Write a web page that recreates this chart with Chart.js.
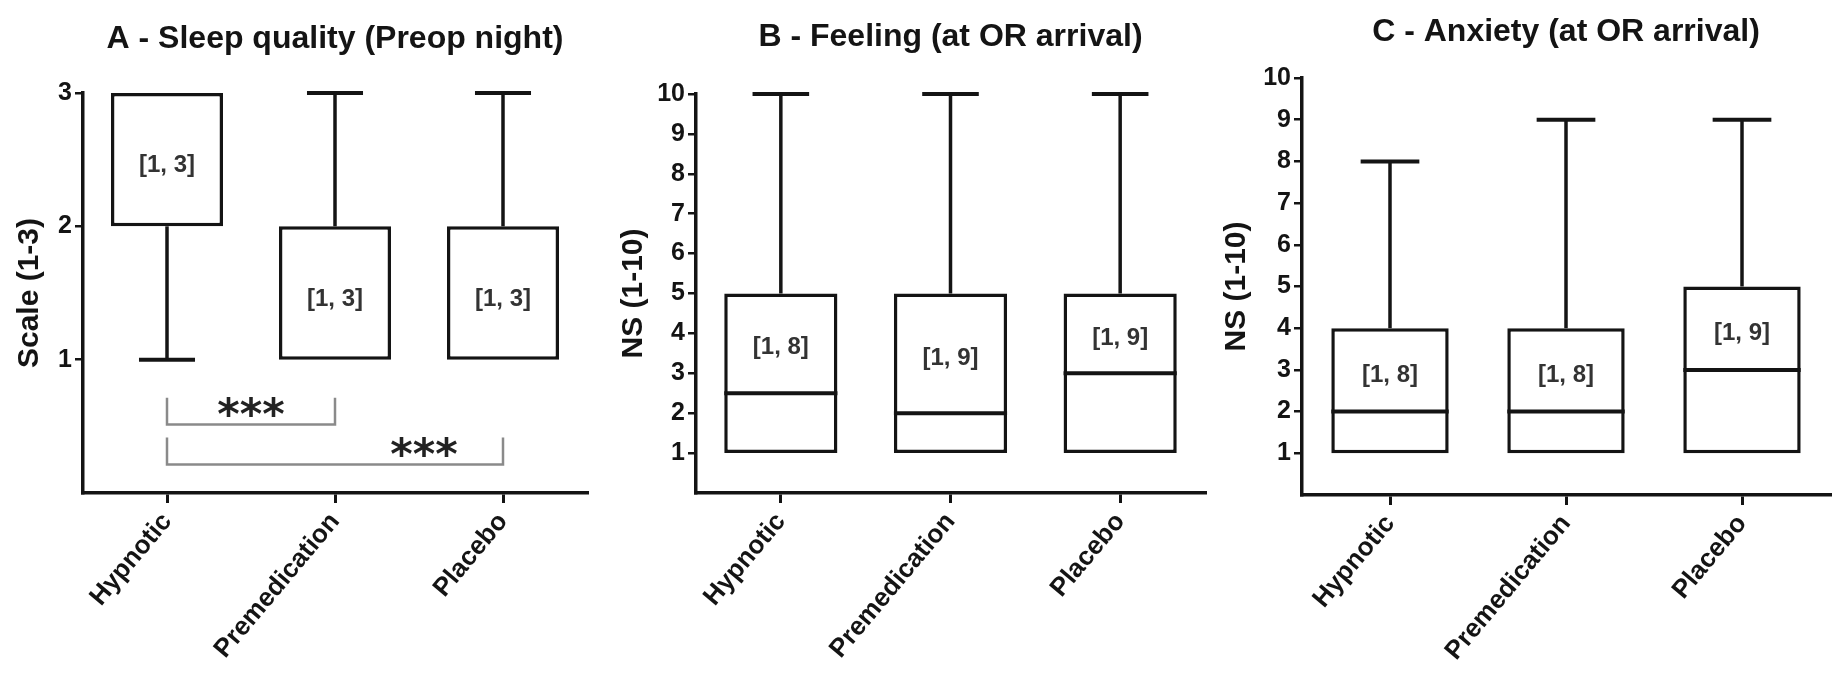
<!DOCTYPE html>
<html>
<head>
<meta charset="utf-8">
<script src="https://cdn.jsdelivr.net/npm/chart.js@4.4.1/dist/chart.umd.min.js"></script>
<style>
html, body { margin: 0; padding: 0; background: #ffffff; }
body { width: 1835px; height: 680px; position: relative; overflow: hidden; }
canvas { position: absolute; top: 0; }
</style>
</head>
<body>
<canvas id="cA" width="600" height="680" style="left:0px"></canvas>
<canvas id="cB" width="610" height="680" style="left:600px"></canvas>
<canvas id="cC" width="620" height="680" style="left:1215px"></canvas>
<script>
// ---------------- data ----------------
const categories = ['Hypnotic', 'Premedication', 'Placebo'];
const panelTitles = ['A - Sleep quality (Preop night)', 'B - Feeling (at OR arrival)', 'C - Anxiety (at OR arrival)'];
const yAxisTitles = ['Scale (1-3)', 'NS (1-10)', 'NS (1-10)'];
const yAxisMax = [3, 10, 10];

// A - Sleep quality
const sleepMin = [1, 1, 1];
const sleepQ1 = [2, 1, 1];
const sleepMedian = [3, 2, 2];
const sleepQ3 = [3, 2, 2];
const sleepMax = [3, 3, 3];
const sleepRangeText = ['[1, 3]', '[1, 3]', '[1, 3]'];
const sleepRangeAt = [2.46, 1.45, 1.45];

// B - Feeling
const feelingMin = [1, 1, 1];
const feelingQ1 = [1, 1, 1];
const feelingMedian = [2.5, 2, 3];
const feelingQ3 = [5, 5, 5];
const feelingMax = [10, 10, 10];
const feelingRangeText = ['[1, 8]', '[1, 9]', '[1, 9]'];
const feelingRangeAt = [3.66, 3.38, 3.87];

// C - Anxiety
const anxietyMin = [1, 1, 1];
const anxietyQ1 = [1, 1, 1];
const anxietyMedian = [2, 2, 3];
const anxietyQ3 = [4, 4, 5];
const anxietyMax = [8, 9, 9];
const anxietyRangeText = ['[1, 8]', '[1, 8]', '[1, 9]'];
const anxietyRangeAt = [2.88, 2.88, 3.88];

// significance brackets (panel A)
const sigFrom = [0, 0];
const sigTo = [1, 2];
const sigText = ['***', '***'];
const sigTop = [0.715, 0.416];
const sigBottom = [0.513, 0.213];
const sigTextAt = [0.655, 0.356];
const sigTextCat = [0.5, 1.53];

// ---------------- styling / layout ----------------
const FONT = "'Liberation Sans', Arial, Helvetica, sans-serif";
const INK = '#141414';
const layouts = [
  { id: 'cA', yWidth: 83, padRight: 13, titleTop: 19.8, titleBottom: 34.8, xHeight: 187, yTitlePad: 12 },
  { id: 'cB', yWidth: 96, padRight: 5, titleTop: 17.8, titleBottom: 37.8, xHeight: 187, yTitlePad: 16 },
  { id: 'cC', yWidth: 87, padRight: 5, titleTop: 12.8, titleBottom: 26.8, xHeight: 185, yTitlePad: 4 }
];

const boxPlugin = {
  id: 'boxWhiskers',
  afterDatasetsDraw(chart, args, opts) {
    const ctx = chart.ctx;
    const xs = chart.scales.x, ys = chart.scales.y;
    const meta = chart.getDatasetMeta(0);
    const s = opts.stats;
    ctx.save();
    ctx.strokeStyle = INK;
    ctx.lineCap = 'butt';
    for (let i = 0; i < s.min.length; i++) {
      const bar = meta.data[i];
      const cx = xs.getPixelForValue(i);
      const w = bar.width;
      const cap = w * 0.5;
      const yMin = ys.getPixelForValue(s.min[i]);
      const yQ1 = ys.getPixelForValue(s.q1[i]);
      const yMed = ys.getPixelForValue(s.median[i]);
      const yQ3 = ys.getPixelForValue(s.q3[i]);
      const yMax = ys.getPixelForValue(s.max[i]);
      ctx.lineWidth = 3.5;
      ctx.beginPath();
      if (s.max[i] > s.q3[i]) { ctx.moveTo(cx, yQ3); ctx.lineTo(cx, yMax); }
      if (s.min[i] < s.q1[i]) { ctx.moveTo(cx, yQ1); ctx.lineTo(cx, yMin); }
      ctx.stroke();
      ctx.lineWidth = 4;
      ctx.beginPath();
      if (s.max[i] > s.q3[i]) { ctx.moveTo(cx - cap / 2, yMax); ctx.lineTo(cx + cap / 2, yMax); }
      if (s.min[i] < s.q1[i]) { ctx.moveTo(cx - cap / 2, yMin); ctx.lineTo(cx + cap / 2, yMin); }
      if (s.median[i] > s.q1[i] && s.median[i] < s.q3[i]) {
        ctx.moveTo(bar.x - w / 2, yMed); ctx.lineTo(bar.x + w / 2, yMed);
      }
      ctx.stroke();
      ctx.fillStyle = '#333333';
      ctx.font = 'bold 24px ' + FONT;
      ctx.textAlign = 'center';
      ctx.textBaseline = 'middle';
      ctx.fillText(s.labels[i], cx, ys.getPixelForValue(s.labelAt[i]));
    }
    ctx.restore();
  }
};

const sigPlugin = {
  id: 'sigBrackets',
  afterDatasetsDraw(chart, args, opts) {
    if (!opts.show) return;
    const ctx = chart.ctx;
    const xs = chart.scales.x, ys = chart.scales.y;
    ctx.save();
    for (let i = 0; i < sigFrom.length; i++) {
      const x1 = xs.getPixelForValue(sigFrom[i]);
      const x2 = xs.getPixelForValue(sigTo[i]);
      const yT = ys.getPixelForValue(sigTop[i]);
      const yB = ys.getPixelForValue(sigBottom[i]);
      ctx.strokeStyle = '#8a8a8a';
      ctx.lineWidth = 2.5;
      ctx.beginPath();
      ctx.moveTo(x1, yT); ctx.lineTo(x1, yB); ctx.lineTo(x2, yB); ctx.lineTo(x2, yT);
      ctx.stroke();
      ctx.fillStyle = '#222222';
      ctx.font = "bold 43px 'DejaVu Sans', sans-serif";
      ctx.textAlign = 'center';
      ctx.textBaseline = 'alphabetic';
      ctx.fillText(sigText[i], xs.getPixelForValue(sigTextCat[i]), ys.getPixelForValue(sigTextAt[i]) + 23);
    }
    ctx.restore();
  }
};

function buildPanel(k, stats) {
  const L = layouts[k];
  const boxes = stats.q1.map((q, i) => [q, stats.q3[i]]);
  return new Chart(document.getElementById(L.id), {
    type: 'bar',
    data: {
      labels: categories,
      datasets: [{
        data: boxes,
        backgroundColor: '#ffffff',
        borderColor: INK,
        borderWidth: 3.5,
        borderSkipped: false,
        barPercentage: 0.667,
        categoryPercentage: 1.0
      }]
    },
    options: {
      responsive: false,
      animation: false,
      devicePixelRatio: 1,
      layout: { padding: { top: 0, left: 0, right: L.padRight, bottom: 0 } },
      plugins: {
        legend: { display: false },
        tooltip: { enabled: false },
        title: {
          display: true,
          text: panelTitles[k],
          fullSize: false,
          color: INK,
          font: { family: FONT, size: 32, weight: 'bold' },
          padding: { top: L.titleTop, bottom: L.titleBottom }
        },
        boxWhiskers: { stats: stats },
        sigBrackets: { show: k === 0 }
      },
      scales: {
        x: {
          type: 'category',
          offset: true,
          grid: { offset: false, drawOnChartArea: false, drawTicks: true, tickLength: 10, color: INK, lineWidth: 3 },
          border: { display: true, color: INK, width: 3.5 },
          ticks: {
            autoSkip: false, minRotation: 50, maxRotation: 50, padding: 4,
            color: INK, font: { family: FONT, size: 26, weight: 'bold' }
          },
          afterFit(scale) { scale.height = L.xHeight; }
        },
        y: {
          type: 'linear',
          min: 0,
          max: yAxisMax[k],
          grid: { drawOnChartArea: false, drawTicks: true, tickLength: 8, color: INK, lineWidth: 2.5 },
          border: { display: true, color: INK, width: 3.5 },
          ticks: { stepSize: 1, padding: 3, color: INK, font: { family: FONT, size: 25, weight: 'bold' } },
          afterBuildTicks(axis) { axis.ticks = axis.ticks.filter(t => t.value >= 1); },
          title: {
            display: true, text: yAxisTitles[k], color: INK,
            font: { family: FONT, size: 30, weight: 'bold' },
            padding: { top: L.yTitlePad, bottom: 0 }
          },
          afterFit(scale) { scale.width = L.yWidth; }
        }
      }
    },
    plugins: [boxPlugin, sigPlugin]
  });
}

buildPanel(0, { min: sleepMin, q1: sleepQ1, median: sleepMedian, q3: sleepQ3, max: sleepMax, labels: sleepRangeText, labelAt: sleepRangeAt });
buildPanel(1, { min: feelingMin, q1: feelingQ1, median: feelingMedian, q3: feelingQ3, max: feelingMax, labels: feelingRangeText, labelAt: feelingRangeAt });
buildPanel(2, { min: anxietyMin, q1: anxietyQ1, median: anxietyMedian, q3: anxietyQ3, max: anxietyMax, labels: anxietyRangeText, labelAt: anxietyRangeAt });
</script>
</body>
</html>
